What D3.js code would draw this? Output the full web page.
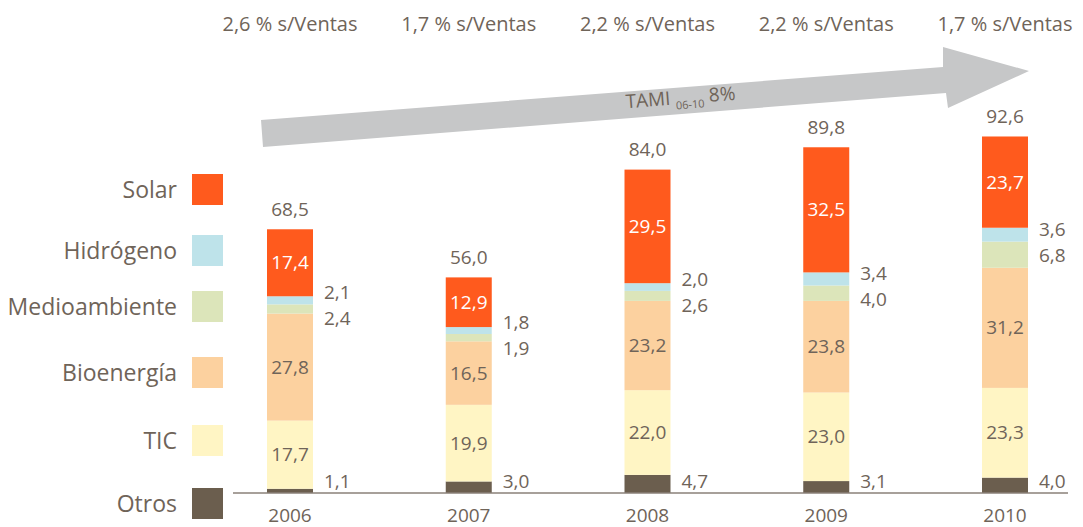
<!DOCTYPE html>
<html>
<head>
<meta charset="utf-8">
<title>Ventas por área</title>
<script src="https://d3js.org/d3.v7.min.js"></script>
<style>
  body { margin: 0; background: #fff; }
  text { font-family: "Open Sans", "Noto Sans", sans-serif; fill: #6f6459; }
</style>
</head>
<body>
<div id="chart"></div>
<script>
// data
var years  = ["2006", "2007", "2008", "2009", "2010"];
var otros  = [1.1, 3.0, 4.7, 3.1, 4.0];
var tic    = [17.7, 19.9, 22.0, 23.0, 23.3];
var bio    = [27.8, 16.5, 23.2, 23.8, 31.2];
var medio  = [2.4, 1.9, 2.6, 4.0, 6.8];
var hidro  = [2.1, 1.8, 2.0, 3.4, 3.6];
var solar  = [17.4, 12.9, 29.5, 32.5, 23.7];
var totals = [68.5, 56.0, 84.0, 89.8, 92.6];
var ventas = ["2,6", "1,7", "2,2", "2,2", "1,7"];

var seriesNames = ["Otros", "TIC", "Bioenergía", "Medioambiente", "Hidrógeno", "Solar"];
var seriesKeys  = ["otros", "tic", "bio", "medio", "hidro", "solar"];
var colors = {
  otros: "#6b5e4e", tic: "#fff5c4", bio: "#fcd19f",
  medio: "#dce5ba", hidro: "#bee3ea", solar: "#ff5a1d"
};

var W = 1083, H = 527;
var svg = d3.select("#chart").append("svg")
  .attr("width", W).attr("height", H);

var rows = years.map(function(y, i) {
  return { year: y, otros: otros[i], tic: tic[i], bio: bio[i],
           medio: medio[i], hidro: hidro[i], solar: solar[i], total: totals[i] };
});

var fmt = d3.formatLocale({ decimal: ",", thousands: ".", grouping: [3], currency: ["", "€"] }).format(".1f");

var x = d3.scalePoint().domain(years).range([290, 1005]);
var barW = 46;
var y = d3.scaleLinear().domain([0, 100]).range([493, 108]);

var stack = d3.stack().keys(seriesKeys)(rows);

// gray growth arrow
var arrow = [[261, 120], [943, 67], [943, 47], [1029, 71], [948, 108], [946, 93], [263, 147]];
svg.append("path")
  .attr("d", d3.line()(arrow) + "Z")
  .attr("fill", "#c6c7c8");

var tami = svg.append("text")
  .attr("transform", "translate(681,104) rotate(-4.4)")
  .attr("text-anchor", "middle")
  .style("font-size", "19px");
tami.append("tspan").text("TAMI ");
tami.append("tspan").attr("dy", 5).style("font-size", "11px").text("06-10");
tami.append("tspan").attr("dy", -5).text(" 8%");

// % s/Ventas row
svg.selectAll(".ventas").data(ventas).enter().append("text")
  .attr("x", function(d, i) { return x(years[i]); })
  .attr("y", 31)
  .attr("text-anchor", "middle")
  .style("font-size", "20px")
  .text(function(d) { return d + " % s/Ventas"; });

// stacked bars
var layers = svg.selectAll(".layer").data(stack).enter().append("g")
  .attr("fill", function(d) { return colors[d.key]; });

layers.selectAll("rect").data(function(d) { return d; }).enter().append("rect")
  .attr("x", function(d) { return x(d.data.year) - barW / 2; })
  .attr("width", barW)
  .attr("y", function(d) { return y(d[1]); })
  .attr("height", function(d) { return y(d[0]) - y(d[1]); });

// axis baseline
svg.append("line")
  .attr("x1", 233).attr("x2", 1068)
  .attr("y1", y(0)).attr("y2", y(0))
  .attr("stroke", "#8a8078").attr("stroke-width", 1.3);

// year labels
svg.selectAll(".year").data(years).enter().append("text")
  .attr("x", function(d) { return x(d); })
  .attr("y", 522)
  .attr("text-anchor", "middle")
  .style("font-size", "19px")
  .text(function(d) { return d; });

// labels inside big segments
["tic", "bio", "solar"].forEach(function(key) {
  var layer = stack[seriesKeys.indexOf(key)];
  svg.selectAll(".in-" + key).data(layer).enter().append("text")
    .attr("x", function(d) { return x(d.data.year); })
    .attr("y", function(d) { return (y(d[0]) + y(d[1])) / 2; })
    .attr("dy", "0.35em")
    .attr("text-anchor", "middle")
    .style("font-size", "19px")
    .style("fill", key === "solar" ? "#ffffff" : "#6f6459")
    .text(function(d) { return fmt(d.data[key]); });
});

// labels beside small segments
var sideX = function(d) { return x(d.year) + barW / 2 + 11; };
var medioTop = stack[seriesKeys.indexOf("medio")];

svg.selectAll(".side-otros").data(rows).enter().append("text")
  .attr("x", sideX)
  .attr("y", y(0) - 12)
  .attr("dy", "0.35em")
  .style("font-size", "19px")
  .text(function(d) { return fmt(d.otros); });

svg.selectAll(".side-hidro").data(rows).enter().append("text")
  .attr("x", sideX)
  .attr("y", function(d, i) { return y(medioTop[i][1]) - 12; })
  .attr("dy", "0.35em")
  .style("font-size", "19px")
  .text(function(d) { return fmt(d.hidro); });

svg.selectAll(".side-medio").data(rows).enter().append("text")
  .attr("x", sideX)
  .attr("y", function(d, i) { return y(medioTop[i][1]) + 14; })
  .attr("dy", "0.35em")
  .style("font-size", "19px")
  .text(function(d) { return fmt(d.medio); });

// totals
svg.selectAll(".total").data(rows).enter().append("text")
  .attr("x", function(d) { return x(d.year); })
  .attr("y", function(d) { return y(d.total) - 20; })
  .attr("dy", "0.35em")
  .attr("text-anchor", "middle")
  .style("font-size", "19px")
  .text(function(d) { return fmt(d.total); });

// legend
var legendY = [503.5, 440.5, 372.5, 306.5, 250.5, 189.5];
var legend = svg.selectAll(".legend").data(seriesKeys).enter().append("g")
  .attr("transform", function(d, i) { return "translate(0," + legendY[i] + ")"; });
legend.append("rect")
  .attr("x", 192).attr("y", -15.5)
  .attr("width", 31).attr("height", 31)
  .attr("fill", function(d) { return colors[d]; });
legend.append("text")
  .attr("x", 177).attr("dy", "0.35em")
  .attr("text-anchor", "end")
  .style("font-size", "23px")
  .text(function(d, i) { return seriesNames[i]; });
</script>
</body>
</html>
